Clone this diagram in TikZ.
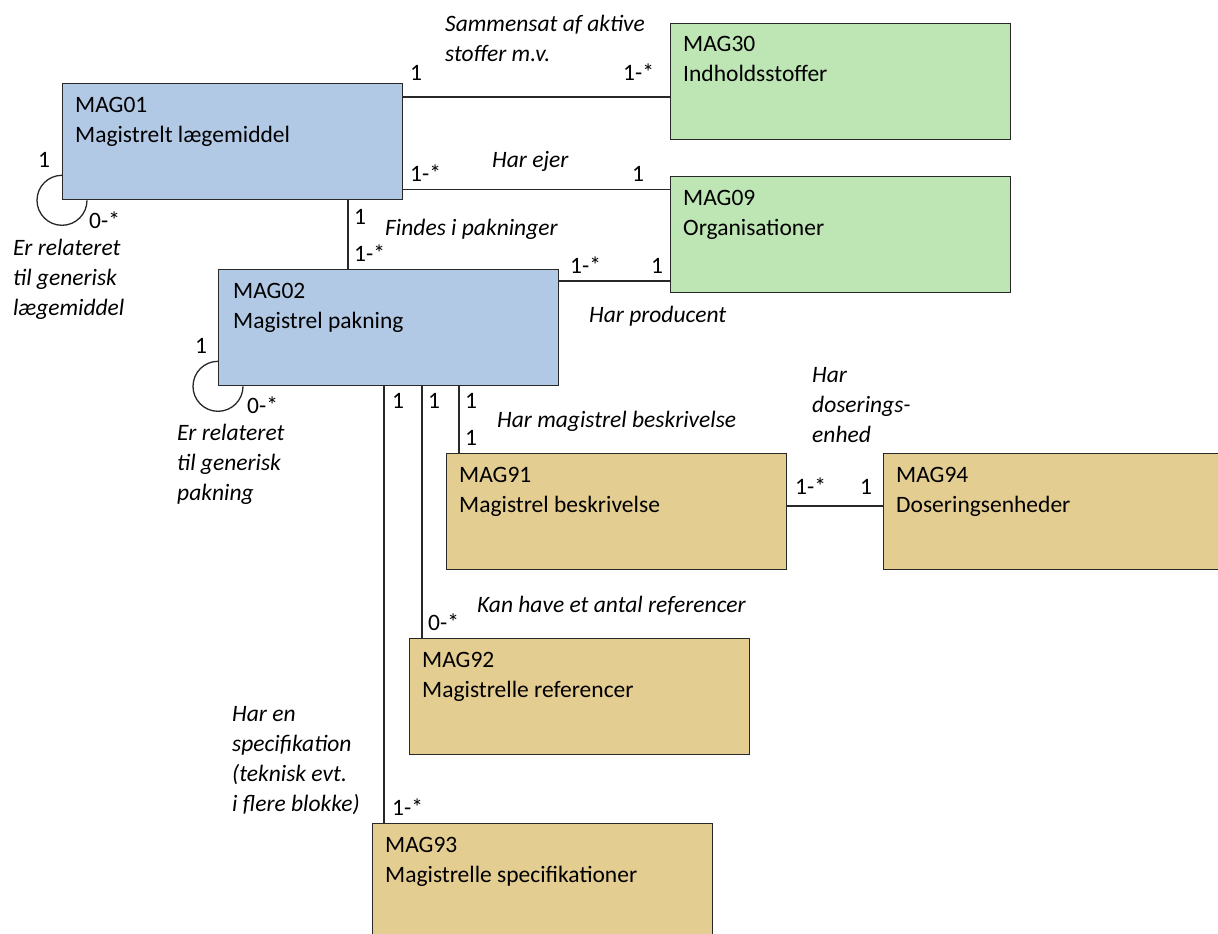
\documentclass[tikz,border=0pt]{standalone}
\usepackage{fontspec}
\setmainfont{Carlito}
\usetikzlibrary{calc}
\definecolor{boxblue}{RGB}{178,201,230}
\definecolor{boxgreen}{RGB}{190,229,180}
\definecolor{boxtan}{RGB}{228,205,145}
\definecolor{linegray}{RGB}{40,40,40}
\newcommand\mlines[1]{\vtop{\baselineskip=30pt\lineskiplimit=-100pt\halign{##\hfil\cr#1\crcr}}}
\begin{document}
\begin{tikzpicture}[x=1pt,y=-1pt,
  every node/.style={font=\fontsize{23.5}{30}\selectfont, inner sep=0pt},
  entity/.style={draw=linegray, line width=1.3pt, rectangle, anchor=north west,
    minimum width=340pt, minimum height=116pt},
  blue/.style={entity, fill=boxblue},
  green/.style={entity, fill=boxgreen},
  tan/.style={entity, fill=boxtan},
  etext/.style={anchor=base west},
  mult/.style={anchor=base west},
  rel/.style={anchor=base west, font=\fontsize{23.5}{30}\selectfont\itshape},
  conn/.style={draw=linegray, line width=1.3pt}]
\useasboundingbox (0,0) rectangle (1218,934);
\begin{scope}
\clip (0,0) rectangle (1218,934);
% entity boxes
\node[blue]  (b01) at (62,83)   {};
\node[blue]  (b02) at (218,269) {};
\node[green] (b30) at (670,23)  {};
\node[green] (b09) at (670,176) {};
\node[tan]   (b91) at (446,453) {};
\node[tan, minimum width=380pt] (b94) at (883,453) {};
\node[tan]   (b92) at (409,638) {};
\node[tan]   (b93) at (372,823) {};
% box texts
\node[etext] (t01) at ($(b01.north west)+(13,29)$) {\mlines{MAG01\cr Magistrelt lægemiddel}};
\node[etext] (t02) at ($(b02.north west)+(15,29)$) {\mlines{MAG02\cr Magistrel pakning}};
\node[etext] (t30) at ($(b30.north west)+(13,29)$) {\mlines{MAG30\cr Indholdsstoffer}};
\node[etext] (t09) at ($(b09.north west)+(13,29)$) {\mlines{MAG09\cr Organisationer}};
\node[etext] (t91) at ($(b91.north west)+(13,29)$) {\mlines{MAG91\cr Magistrel beskrivelse}};
\node[etext] (t94) at ($(b94.north west)+(13,29)$) {\mlines{MAG94\cr Doseringsenheder}};
\node[etext] (t92) at ($(b92.north west)+(13,29)$) {\mlines{MAG92\cr Magistrelle referencer}};
\node[etext] (t93) at ($(b93.north west)+(13,29)$) {\mlines{MAG93\cr Magistrelle specifikationer}};
% connectors
\draw[conn] (b01.north east) ++(0,14) coordinate (c1) -- (c1 -| b30.west);
\draw[conn] (b01.south east) ++(0,-11) coordinate (c2) -- (c2 -| b09.west);
\draw[conn] (b01.south west) ++(286,0) coordinate (c3) -- (c3 |- b02.north);
\draw[conn] (b02.north east) ++(0,12) coordinate (c4) -- (c4 -| b09.west);
\draw[conn] (b02.south west) ++(166,0) coordinate (c5) -- (c5 |- b93.north);
\draw[conn] (b02.south west) ++(204,0) coordinate (c6) -- (c6 |- b92.north);
\draw[conn] (b02.south west) ++(241,0) coordinate (c7) -- (c7 |- b91.north);
\draw[conn] (b91.north east) ++(0,53) coordinate (c8) -- (c8 -| b94.west);
% self loops
\draw[conn] (b01.south west) ++(0,-25) coordinate (s1) arc[start angle=270, end angle=0, radius=25];
\draw[conn] (b02.south west) ++(0,-25) coordinate (s2) arc[start angle=270, end angle=0, radius=25];
\end{scope}
% relation labels
\node[rel] (r1) at (445,32) {\mlines{Sammensat af aktive\cr stoffer m.v.}};
\node[mult] (m1a) at (410,81) {1};
\node[mult] (m1b) at (623,81) {1-*};
\node[rel] (r2) at (492,167) {Har ejer};
\node[mult] (m2a) at (410,181) {1-*};
\node[mult] (m2b) at (632,181) {1};
\node[rel] (r3) at (385,235) {Findes i pakninger};
\node[mult] (m3a) at (354,224) {1};
\node[mult] (m3b) at (354,261) {1-*};
\node[mult] (m4a) at (570,273) {1-*};
\node[mult] (m4b) at (651,273) {1};
\node[rel] (r4) at (589,322) {Har producent};
\node[mult] (m5a) at (38,167) {1};
\node[mult] (m5b) at (89,228) {0-*};
\node[rel] (r5) at (13,255) {\mlines{Er relateret\cr til generisk\cr lægemiddel}};
\node[mult] (m6a) at (195,353) {1};
\node[mult] (m6b) at (247,413) {0-*};
\node[rel] (r6) at (177,440) {\mlines{Er relateret\cr til generisk\cr pakning}};
\node[mult] (m7a) at (392,408) {1};
\node[mult] (m8a) at (428,408) {1};
\node[mult] (m9a) at (465,408) {1};
\node[mult] (m9b) at (465,445) {1};
\node[rel] (r9) at (497,427) {Har magistrel beskrivelse};
\node[rel] (r10) at (812,382) {\mlines{Har\cr doserings-\cr enhed}};
\node[mult] (m10a) at (795,494) {1-*};
\node[mult] (m10b) at (860,494) {1};
\node[rel] (r8) at (477,612) {Kan have et antal referencer};
\node[mult] (m8b) at (428,630) {0-*};
\node[rel] (r7) at (232,721) {\mlines{Har en\cr specifikation\cr (teknisk evt.\cr i flere blokke)}};
\node[mult] (m7b) at (392,815) {1-*};
\end{tikzpicture}
\end{document}
